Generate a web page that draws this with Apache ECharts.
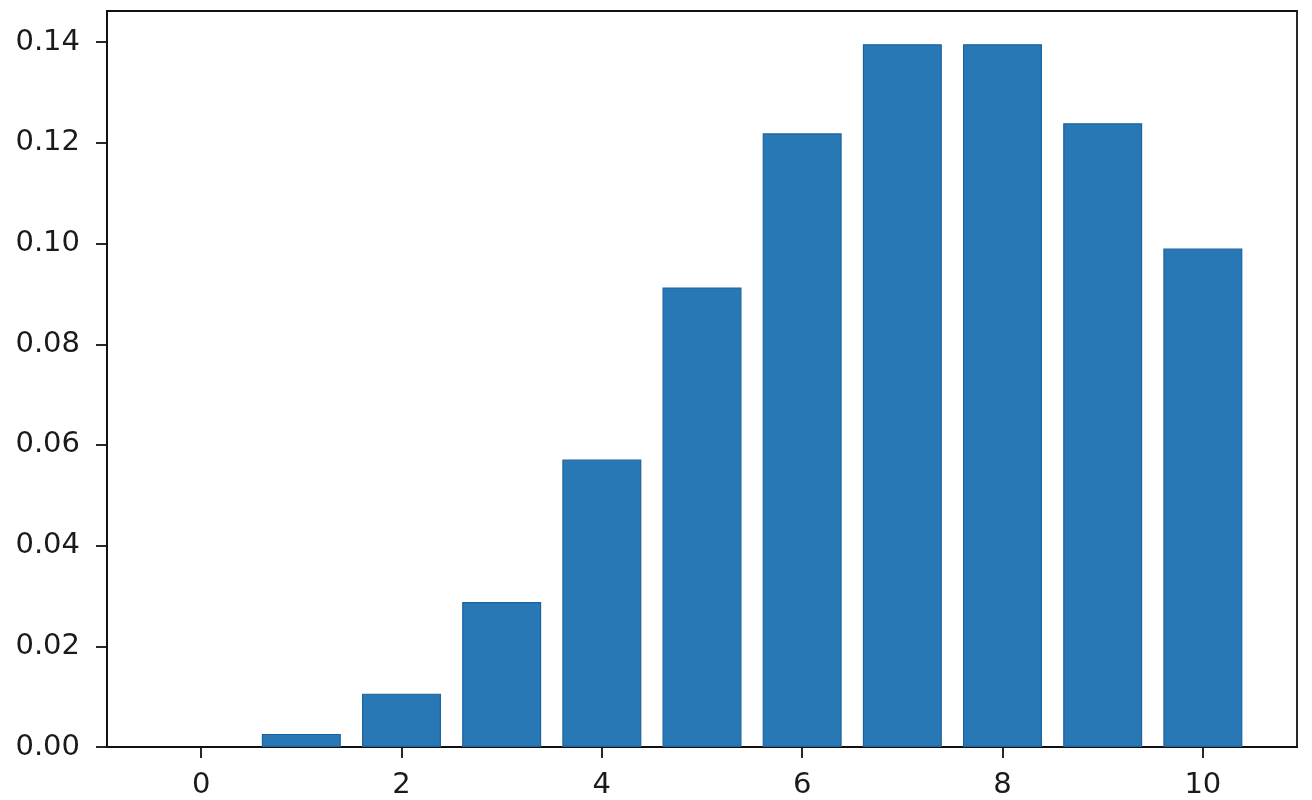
<!DOCTYPE html>
<html>
<head>
<meta charset="utf-8">
<script src="https://cdn.jsdelivr.net/npm/echarts@6/dist/echarts.min.js"></script>
<style>
  html, body { margin: 0; padding: 0; background: #fff; }
  #chart { width: 1312px; height: 800px; }
</style>
</head>
<body>
<div id="chart"></div>
<script>
// bar positions and heights
const xs = [0, 1, 2, 3, 4, 5, 6, 7, 8, 9, 10]
const probs = [0, 0.0026, 0.0106, 0.0288, 0.0571, 0.0913, 0.1219, 0.1396, 0.1396, 0.1239, 0.0990]
const xTicks = [0, 2, 4, 6, 8, 10]
const yTicks = [0, 0.02, 0.04, 0.06, 0.08, 0.10, 0.12, 0.14]

// a zero-height bar leaves no outline in the original
const barData = xs.map((x, i) => probs[i] === 0
  ? { value: [x, probs[i]], itemStyle: { borderWidth: 0 } }
  : [x, probs[i]])

const chart = echarts.init(document.getElementById('chart'))
const labelFont = {
  color: '#1a1a1a',
  fontFamily: 'DejaVu Sans',
  fontSize: 29
}
const spine = { show: true, onZero: false, lineStyle: { color: '#111', width: 1.8 } }
const tick = { show: true, length: 11, lineStyle: { color: '#111', width: 1.8 } }

chart.setOption({
  animation: false,
  backgroundColor: '#fff',
  grid: {
    left: 107, right: 15, top: 11, bottom: 49,
    show: true, borderColor: '#111', borderWidth: 1.8, backgroundColor: 'transparent'
  },
  xAxis: {
    type: 'value',
    min: -0.94,
    max: 10.94,
    splitLine: { show: false },
    axisLine: spine,
    axisTick: Object.assign({ customValues: xTicks }, tick),
    axisLabel: Object.assign({ customValues: xTicks, margin: 24 }, labelFont)
  },
  yAxis: {
    type: 'value',
    min: 0,
    max: 0.1462,
    splitLine: { show: false },
    axisLine: spine,
    axisTick: Object.assign({ customValues: yTicks }, tick),
    axisLabel: Object.assign({
      customValues: yTicks,
      margin: 27,
      formatter: v => v.toFixed(2)
    }, labelFont)
  },
  series: [{
    type: 'bar',
    data: barData,
    barWidth: 79,
    itemStyle: { color: '#2778b4', borderColor: '#1d62a0', borderWidth: 1.2 }
  }]
})
</script>
</body>
</html>
